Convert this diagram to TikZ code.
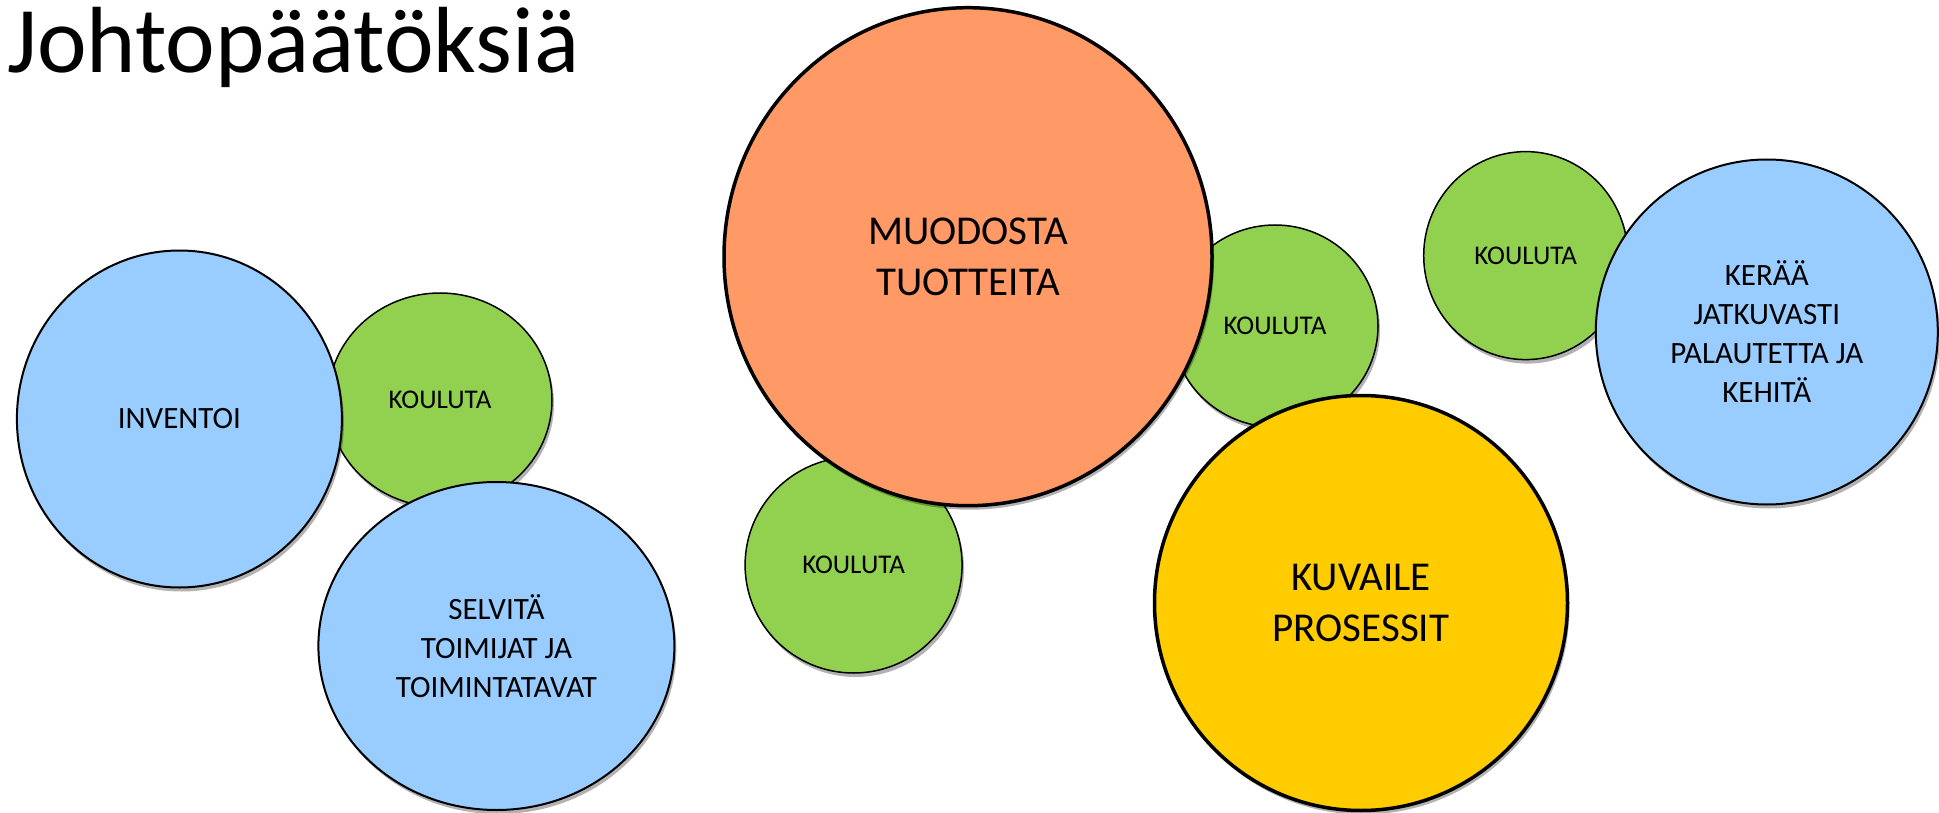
\documentclass[tikz,border=0pt]{standalone}
\usepackage{fontspec}
\setmainfont{Carlito}
\usetikzlibrary{shapes.geometric,shadows}
\definecolor{cblue}{HTML}{99CCFF}
\definecolor{cgreen}{HTML}{92D050}
\definecolor{corange}{HTML}{FF9966}
\definecolor{cyellow}{HTML}{FFCC00}
\tikzset{
  bubble/.style={ellipse, draw=black, inner sep=0pt, align=center,
    drop shadow={shadow xshift=2pt, shadow yshift=-4pt, opacity=0.3, fill=black}},
  small/.style={bubble, fill=cgreen, line width=1.5pt, font=\fontsize{27}{31}\selectfont},
  mid/.style={bubble, fill=cblue, line width=2pt, font=\fontsize{31}{39}\selectfont},
  big/.style={bubble, line width=3.5pt, font=\fontsize{41}{51}\selectfont},
}
\begin{document}
\begin{tikzpicture}[x=1pt,y=-1pt]
\useasboundingbox (0,0) rectangle (1939,813);
\node[anchor=base west, inner sep=0pt, font=\fontsize{94}{108}\selectfont] (title) at (7,72.6) {Johtopäätöksiä};
% left group
\node[small, minimum width=224pt, minimum height=214pt] (k1) at (440,400) {KOULUTA};
\node[mid, minimum width=325pt, minimum height=337pt] (inv) at (179.4,419) {INVENTOI};
\node[mid, minimum width=356pt, minimum height=328pt] (sel) at (496.4,646) {SELVITÄ\\TOIMIJAT JA\\TOIMINTATAVAT};
% middle group
\node[small, minimum width=217pt, minimum height=216pt] (k2) at (853.6,565) {KOULUTA};
\node[small, minimum width=206pt, minimum height=202pt] (k3) at (1275,326) {KOULUTA};
\node[big, fill=corange, minimum width=488pt, minimum height=498pt] (muo) at (968,256.7) {MUODOSTA\\TUOTTEITA};
\node[big, fill=cyellow, minimum width=413pt, minimum height=415pt] (kuv) at (1361,603) {KUVAILE\\PROSESSIT};
% right group
\node[small, minimum width=204pt, minimum height=208pt] (k4) at (1525.7,255.6) {KOULUTA};
\node[mid, minimum width=342pt, minimum height=345pt] (ker) at (1766.8,332) {KERÄÄ\\JATKUVASTI\\PALAUTETTA JA\\KEHITÄ};
\end{tikzpicture}
\end{document}
